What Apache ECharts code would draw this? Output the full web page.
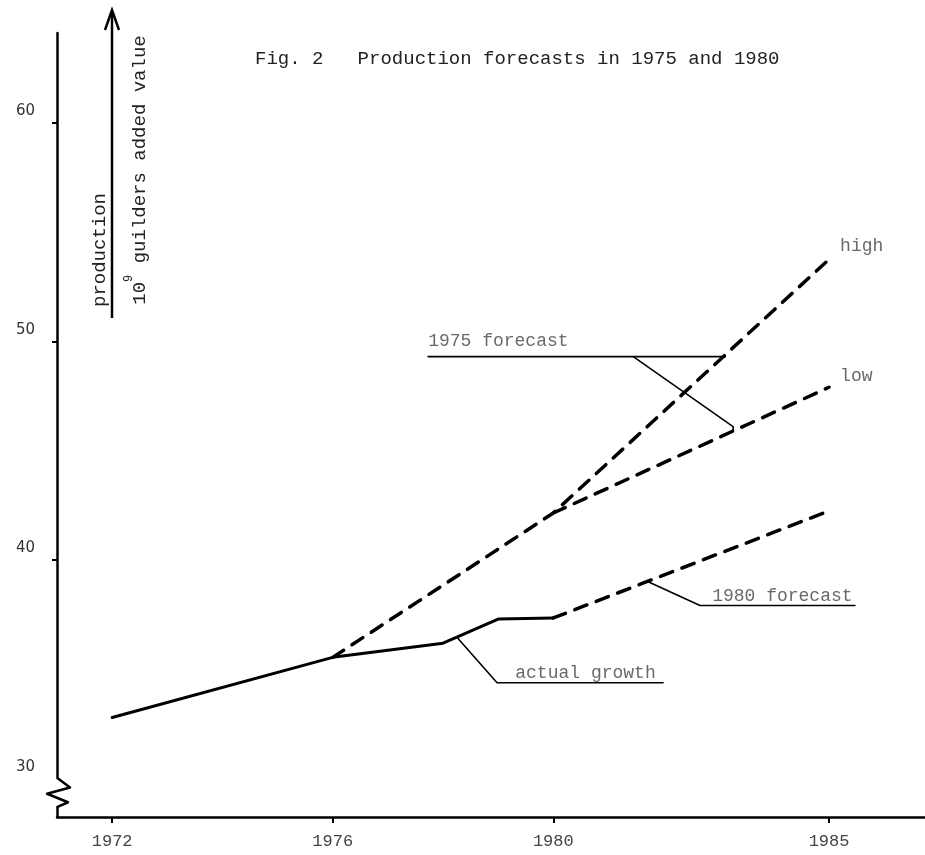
<!DOCTYPE html>
<html><head><meta charset="utf-8">
<script src="https://cdn.jsdelivr.net/npm/echarts@6/dist/echarts.min.js"></script>
<style>html,body{margin:0;padding:0;background:#fff}#c{width:925px;height:855px}</style>
</head><body><div id="c"></div>
<script>
// ---- data ----
const xTicks = [1972, 1976, 1980, 1985];
const yTicks = [40, 50, 60];
const yLabels = [30, 40, 50, 60];
const actualYears = [1972, 1976, 1978, 1979, 1980];
const actualValues = [32.8, 35.55, 36.2, 37.3, 37.35];
const highYears = [1976, 1980, 1985];
const highValues = [35.55, 42.15, 53.75];
const lowYears = [1980, 1985];
const lowValues = [42.15, 47.9];
const fc1980Years = [1980, 1985];
const fc1980Values = [37.35, 42.25];
// annotation leader lines (data coordinates)
const note1975UnderX = [1977.73, 1983.12];
const note1975UnderY = [49.3, 49.3];
const note1975LeaderX = [1981.45, 1983.26, 1983.26];
const note1975LeaderY = [49.3, 46.1, 45.9];
const noteActualX = [1978.26, 1978.98, 1981.99];
const noteActualY = [36.45, 34.39, 34.39];
const note1980X = [1981.70, 1982.66, 1985.47];
const note1980Y = [39.03, 37.92, 37.92];
// annotation texts
const noteTexts = ['1975 forecast', 'actual growth', '1980 forecast', 'high', 'low'];
const noteTextX = [1977.73, 1979.31, 1982.88, 1985.2, 1985.2];
const noteTextY = [50.0, 34.81, 38.33, 54.33, 48.39];
const titleText = 'Fig. 2   Production forecasts in 1975 and 1980';
const yNameTop = 'production';
const yNameBottom = ' guilders added value';
const breakTop = 30.0, breakBottom = 28.75;

const zip = (xs, ys) => xs.map((x, i) => [x, ys[i]]);
const MONO = '"Liberation Mono", "DejaVu Sans Mono", monospace';

const chart = echarts.init(document.getElementById('c'), null, {renderer: 'canvas'});
const solid = (w) => ({color: '#000', width: w, type: 'solid', cap: 'round', join: 'round'});
const dashed = {color: '#000', width: 3.5, type: [13, 10], cap: 'round'};
const lineSeries = (data, ls, z) => ({type: 'line', data, showSymbol: false, symbol: 'none', lineStyle: ls, silent: true, z: z || 2, animation: false});

chart.setOption({
  animation: false,
  backgroundColor: '#fff',
  title: {text: titleText, left: 250, top: 44,
    textStyle: {fontFamily: MONO, fontSize: 19, fontWeight: 'normal', color: '#222'}},
  grid: {left: 57, right: 0, top: 33, bottom: 38, containLabel: false},
  xAxis: {type: 'value', min: 1971, max: 1986.74,
    splitLine: {show: false},
    axisLine: {lineStyle: {color: '#000', width: 2.5}},
    axisTick: {customValues: xTicks, length: 6, lineStyle: {color: '#000', width: 2}},
    axisLabel: {customValues: xTicks, margin: 16, fontFamily: MONO, fontSize: 17, color: '#444',
      formatter: v => String(v)}},
  yAxis: {type: 'value', min: 28.25, max: 64.1,
    splitLine: {show: false},
    axisLine: {lineStyle: {color: '#000', width: 2.5}},
    axisTick: {customValues: yTicks, length: 5, lineStyle: {color: '#000', width: 2}},
    axisLabel: {customValues: yLabels, margin: 22, fontFamily: '"DejaVu Sans", sans-serif', fontSize: 15,
      color: '#333', verticalAlign: 'bottom', padding: [0, 0, 4, 0], formatter: v => String(v)}},
  series: [
    lineSeries(zip(actualYears, actualValues), solid(3), 3),
    lineSeries(zip(highYears, highValues), dashed),
    lineSeries(zip(lowYears, lowValues), dashed),
    lineSeries(zip(fc1980Years, fc1980Values), dashed),
    lineSeries(zip(note1975UnderX, note1975UnderY), solid(1.6)),
    lineSeries(zip(note1975LeaderX, note1975LeaderY), solid(1.6)),
    lineSeries(zip(noteActualX, noteActualY), solid(1.6)),
    lineSeries(zip(note1980X, note1980Y), solid(1.6)),
    {type: 'scatter', symbolSize: 0, silent: true, animation: false,
      data: noteTexts.map((t, i) => ({value: [noteTextX[i], noteTextY[i]], name: t})),
      label: {show: true, position: 'right', distance: 0, formatter: p => p.name,
        fontFamily: MONO, fontSize: 18, color: '#444', align: 'left', verticalAlign: 'middle'}}
  ]
});

// axis break zigzag on the y axis (positions from axis values)
const p0 = chart.convertToPixel({gridIndex: 0}, [1971, breakTop]);
const p1 = chart.convertToPixel({gridIndex: 0}, [1971, breakBottom]);
const ax = p0[0], ya = p0[1], yb = p1[1], h = (yb - ya);
chart.setOption({graphic: [
  {type: 'rect', shape: {x: ax - 3, y: ya, width: 6, height: h}, style: {fill: '#fff'}, z: 100},
  {type: 'polyline', z: 101, shape: {points: [
    [ax, ya - 1], [ax + 13, ya + h * 0.32], [ax - 10, ya + h * 0.55], [ax + 11, ya + h * 0.86], [ax, yb + 1]
  ]}, style: {stroke: '#000', lineWidth: 2.5, fill: null, lineJoin: 'round'}},
  // y axis title: fraction with arrow
  {type: 'polyline', z: 101, shape: {points: [[112, 318], [112, 12]]}, style: {stroke: '#000', lineWidth: 2.5, fill: null}},
  {type: 'polyline', z: 101, shape: {points: [[105, 30], [112, 10], [119, 30]]}, style: {stroke: '#000', lineWidth: 2.5, fill: null}},
  {type: 'text', z: 101, x: 100, y: 250, rotation: Math.PI / 2,
    style: {text: yNameTop, fontFamily: MONO, fontSize: 19, fill: '#222', align: 'center', verticalAlign: 'middle'}},
  {type: 'text', z: 101, x: 136, y: 170, rotation: Math.PI / 2,
    style: {text: '{a|10}{b|9}{a|' + yNameBottom + '}', align: 'center', verticalAlign: 'middle',
      rich: {a: {fontFamily: MONO, fontSize: 19, fill: '#222', lineHeight: 26, verticalAlign: 'bottom'},
             b: {fontFamily: MONO, fontSize: 12, fill: '#222', lineHeight: 26, verticalAlign: 'top'}}}}
]});
</script></body></html>
